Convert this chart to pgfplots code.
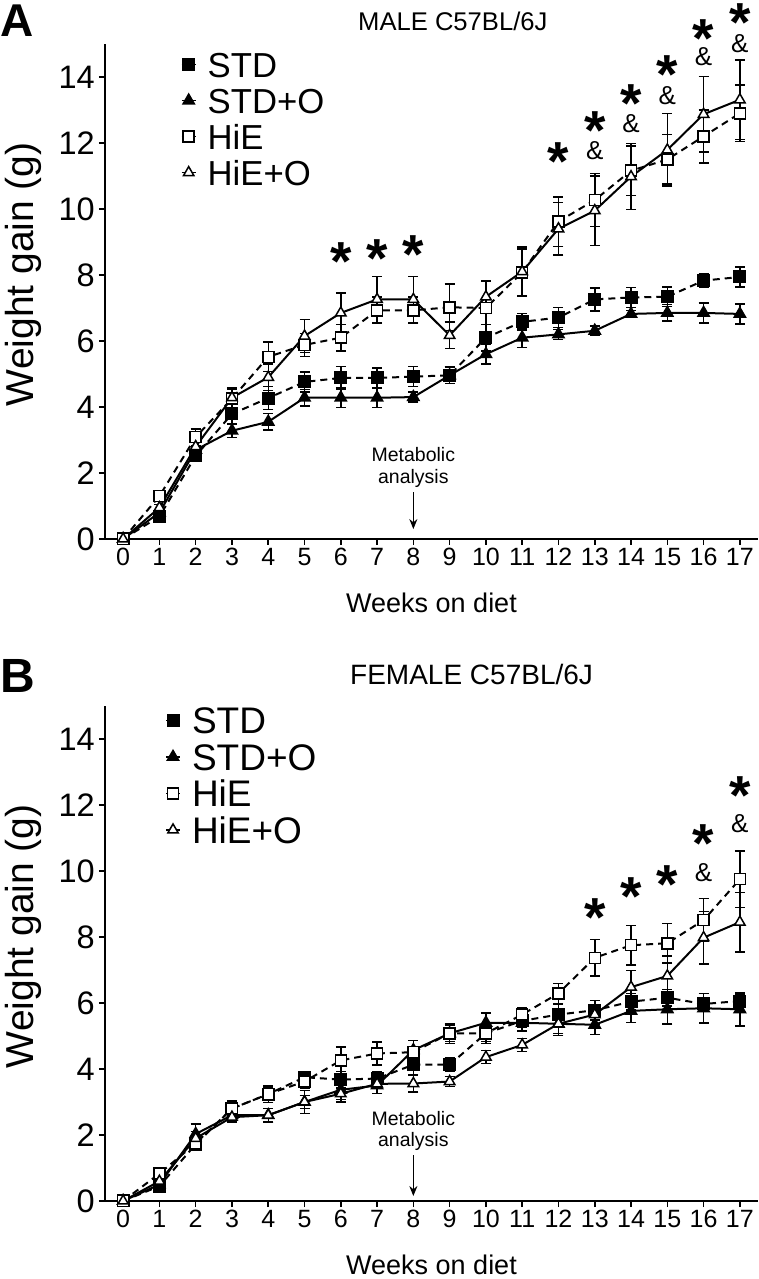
\documentclass[border=0pt]{standalone}
\usepackage{fontspec}
\setmainfont{Liberation Sans}
\usepackage{pgfplots}
\usepackage{pgfplotstable}
\pgfplotsset{compat=1.18}
\usetikzlibrary{arrows.meta}

% ---------- Panel A (male) ----------
\pgfplotstableread{
x y e
0 0 0
1 0.68 0.1
2 2.52 0.15
3 3.79 0.3
4 4.27 0.35
5 4.76 0.3
6 4.88 0.35
7 4.88 0.3
8 4.92 0.3
9 4.96 0.25
10 6.1 0.4
11 6.58 0.25
12 6.71 0.3
13 7.26 0.35
14 7.32 0.3
15 7.34 0.3
16 7.83 0.2
17 7.94 0.3
}\AstdT
\pgfplotstableread{
x y e
0 0 0
1 0.8 0.1
2 2.7 0.1
3 3.28 0.2
4 3.55 0.25
5 4.28 0.25
6 4.28 0.3
7 4.28 0.3
8 4.3 0.15
9 4.96 0.25
10 5.6 0.3
11 6.1 0.3
12 6.2 0.15
13 6.31 0.15
14 6.82 0.1
15 6.85 0.25
16 6.85 0.3
17 6.82 0.3
}\AstdoT
\pgfplotstableread{
x y e
0 0 0
1 1.3 0.15
2 3.09 0.25
3 4.25 0.3
4 5.52 0.45
5 5.88 0.35
6 6.1 0.4
7 6.93 0.4
8 6.93 0.4
9 7.02 0.7
10 7.0 0.8
11 8.08 0.7
12 9.62 0.75
13 10.27 0.8
14 11.16 0.75
15 11.5 0.75
16 12.2 0.8
17 12.9 0.85
}\AhieT
\pgfplotstableread{
x y e
0 0 0
1 0.95 0.1
2 2.8 0.2
3 4.28 0.3
4 4.9 0.4
5 6.15 0.5
6 6.85 0.6
7 7.26 0.7
8 7.26 0.7
9 6.17 0.4
10 7.34 0.5
11 8.1 0.75
12 9.4 0.8
13 9.95 1.05
14 10.98 1.0
15 11.79 1.1
16 12.87 1.15
17 13.31 1.2
}\AhieoT

% ---------- Panel B (female) ----------
\pgfplotstableread{
x y e
0 0 0
1 0.45 0.15
2 1.72 0.15
3 2.8 0.2
4 3.24 0.2
5 3.75 0.15
6 3.68 0.25
7 3.71 0.2
8 4.13 0.3
9 4.13 0.2
10 5.08 0.25
11 5.46 0.2
12 5.65 0.3
13 5.78 0.3
14 6.04 0.25
15 6.16 0.25
16 5.97 0.2
17 6.06 0.2
}\BstdT
\pgfplotstableread{
x y e
0 0 0
1 0.5 0.15
2 2.03 0.3
3 2.6 0.2
4 2.6 0.2
5 3.0 0.35
6 3.37 0.3
7 3.5 0.25
8 4.57 0.3
9 5.08 0.25
10 5.4 0.3
11 5.4 0.25
12 5.37 0.35
13 5.34 0.3
14 5.76 0.35
15 5.81 0.45
16 5.84 0.45
17 5.81 0.5
}\BstdoT
\pgfplotstableread{
x y e
0 0 0
1 0.83 0.15
2 1.75 0.2
3 2.8 0.25
4 3.24 0.25
5 3.62 0.2
6 4.26 0.4
7 4.47 0.35
8 4.51 0.35
9 5.08 0.3
10 5.08 0.3
11 5.65 0.2
12 6.29 0.3
13 7.37 0.55
14 7.75 0.6
15 7.81 0.6
16 8.51 0.65
17 9.75 0.85
}\BhieT
\pgfplotstableread{
x y e
0 0 0
1 0.6 0.2
2 1.9 0.2
3 2.54 0.15
4 2.6 0.2
5 3.0 0.2
6 3.25 0.25
7 3.55 0.3
8 3.56 0.25
9 3.62 0.15
10 4.36 0.2
11 4.73 0.2
12 5.37 0.3
13 5.65 0.3
14 6.48 0.5
15 6.82 0.6
16 7.98 0.8
17 8.45 0.9
}\BhieoT

\pgfplotsset{
  myaxis/.style={
    anchor=south west, scale only axis, width=653pt, height=495pt,
    xmin=-0.5, xmax=17.5, ymin=0, ymax=15,
    axis x line*=bottom, axis y line*=left,
    axis line style={line width=2.4pt, -},
    xtick={0,...,17}, ytick={0,2,...,14},
    tick align=outside, major tick length=6pt,
    tick style={line width=1.6pt, black},
    /pgf/number format/assume math mode=true,
    xticklabel style={font=\fontsize{25}{25}\selectfont, inner sep=3pt},
    yticklabel style={font=\fontsize{32.5}{32.5}\selectfont, inner sep=4pt},
    clip=false,
    xlabel={Weeks on diet}, ylabel={Weight gain (g)},
    xlabel style={font=\fontsize{27}{27}\selectfont, at={(axis description cs:0.5,-0.129)}, anchor=center},
    ylabel style={font=\fontsize{39}{39}\selectfont, at={(axis description cs:-0.1256,0.535)}, anchor=center},
    legend cell align=left,
    legend image code/.code={%
      \draw[##1, solid, mark=none, line width=1.5pt] (0pt,0pt) -- (14pt,0pt);
      \draw[##1] plot coordinates {(7pt,0pt)};
      \path (25pt,0pt);},
  },
  stdS/.style={black, line width=2pt, dash pattern=on 7pt off 5pt, mark=square*, mark size=5.5pt, mark options={solid, fill=black}},
  stdoS/.style={black, line width=2pt, solid, mark=triangle*, mark size=6pt, mark options={solid, fill=black}},
  hieS/.style={black, line width=2pt, dash pattern=on 7pt off 5pt, mark=square*, mark size=5.5pt, mark options={solid, fill=white, line width=1.5pt}},
  hieoS/.style={black, line width=2pt, solid, mark=triangle*, mark size=6pt, mark options={solid, fill=white, line width=1.5pt}},
  errS/.style={error bars/.cd, y dir=both, y explicit,
    error bar style={line width=1.5pt, solid},
    error mark options={rotate=90, mark size=5pt, line width=1.5pt, solid}},
}
\newcommand{\sig}[2]{\node[font=\fontsize{55}{55}\selectfont\bfseries, anchor=base, inner sep=0pt, yshift=-32pt] at (axis cs:#1,#2) {*};}
\newcommand{\amp}[2]{\node[font=\fontsize{26}{26}\selectfont, anchor=base, inner sep=0pt, yshift=-9.4pt] at (axis cs:#1,#2) {\&};}

\begin{document}
\begin{tikzpicture}
\useasboundingbox (0pt,0pt) rectangle (759pt,1279pt);

% Panel labels and titles
\node[font=\fontsize{46}{46}\selectfont\bfseries, anchor=base west, inner sep=0pt] at (0pt,1242.5pt) {A};
\node[font=\fontsize{25.6}{25.6}\selectfont, anchor=base west, inner sep=0pt] at (358pt,1248pt) {MALE C57BL/6J};
\node[font=\fontsize{48}{48}\selectfont\bfseries, anchor=base west, inner sep=0pt] at (0pt,586.5pt) {B};
\node[font=\fontsize{28}{28}\selectfont, anchor=base west, inner sep=0pt] at (350pt,594pt) {FEMALE C57BL/6J};

% ---------------- Panel A ----------------
\begin{axis}[myaxis, at={(105pt,740pt)},
  legend style={at={(axis description cs:0.116,0.984)}, anchor=north west, draw=none, fill=none,
    font=\fontsize{34.7}{34.7}\selectfont, inner sep=0pt, row sep=11pt,
    nodes={inner sep=0pt, text height=25pt, text depth=0pt}},
]
\addplot[stdS, errS] table[x=x, y=y, y error=e] {\AstdT};
\addplot[stdoS, errS] table[x=x, y=y, y error=e] {\AstdoT};
\addplot[hieS, errS] table[x=x, y=y, y error=e] {\AhieT};
\addplot[hieoS, errS] table[x=x, y=y, y error=e] {\AhieoT};
\legend{STD, STD+O, HiE, HiE+O}
\sig{6}{8.8}\sig{7}{8.9}\sig{8}{9.0}
\sig{12}{11.84}
\sig{13}{12.78}\amp{13}{11.79}
\sig{14}{13.6}\amp{14}{12.6}
\sig{15}{14.48}\amp{15}{13.46}
\sig{16}{15.55}\amp{16}{14.62}
\sig{17}{16.05}\amp{17}{15.02}
\node[align=center, font=\fontsize{19.5}{21.5}\selectfont, inner sep=0pt] at (axis cs:8,2.17) {Metabolic\\analysis};
\draw[-{Stealth[length=10pt,width=8pt]}, line width=1.6pt] (axis cs:8,1.42) -- (axis cs:8,0.3);
\end{axis}

% ---------------- Panel B ----------------
\begin{axis}[myaxis, at={(105pt,78pt)},
  legend style={at={(axis description cs:0.092,0.998)}, anchor=north west, draw=none, fill=none,
    font=\fontsize{37}{37}\selectfont, inner sep=0pt, row sep=10pt,
    nodes={inner sep=0pt, text height=26.5pt, text depth=0pt}},
]
\addplot[stdS, errS] table[x=x, y=y, y error=e] {\BstdT};
\addplot[stdoS, errS] table[x=x, y=y, y error=e] {\BstdoT};
\addplot[hieS, errS] table[x=x, y=y, y error=e] {\BhieT};
\addplot[hieoS, errS] table[x=x, y=y, y error=e] {\BhieoT};
\legend{STD, STD+O, HiE, HiE+O}
\sig{13}{8.97}
\sig{14}{9.63}
\sig{15}{9.97}
\sig{16}{11.24}\amp{16}{9.97}
\sig{17}{12.67}\amp{17}{11.45}
\node[align=center, font=\fontsize{19.5}{21.5}\selectfont, inner sep=0pt] at (axis cs:8,2.12) {Metabolic\\analysis};
\draw[-{Stealth[length=10pt,width=8pt]}, line width=1.6pt] (axis cs:8,1.39) -- (axis cs:8,0.15);
\end{axis}
\end{tikzpicture}
\end{document}
